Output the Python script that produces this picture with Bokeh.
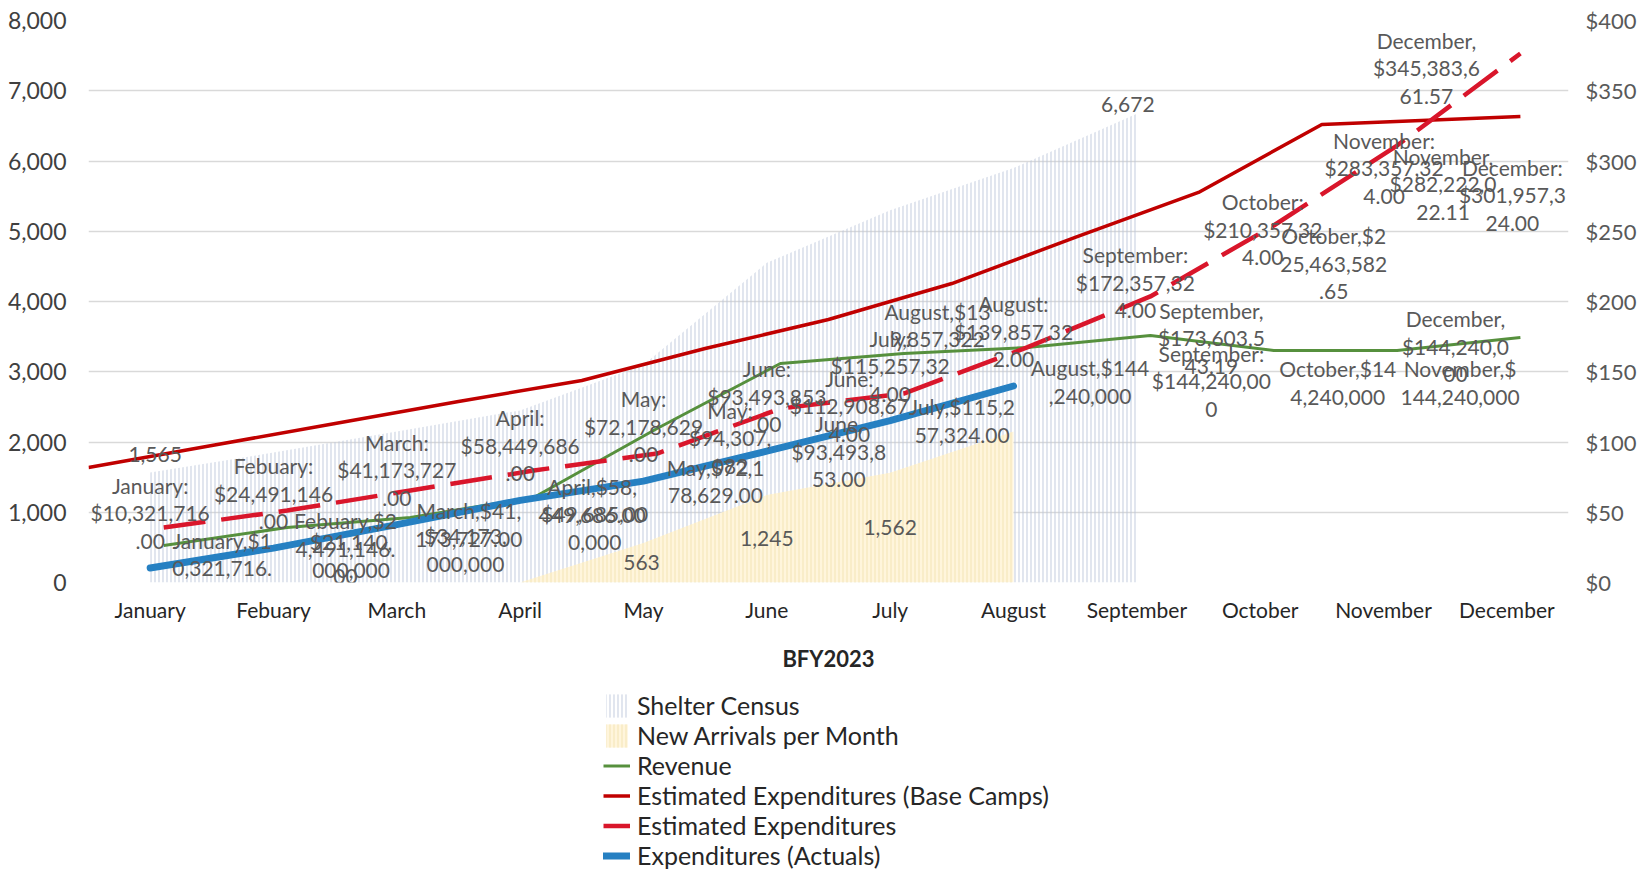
from bokeh.plotting import figure
from bokeh.layouts import column
from bokeh.models import (Range1d, LinearAxis, FixedTicker, ColumnDataSource,
                          Legend, LegendItem, NumeralTickFormatter)
from bokeh.core.properties import value
from bokeh.embed import file_html
from bokeh.resources import INLINE

# ---------------- data ----------------
months = ["January", "Febuary", "March", "April", "May", "June", "July",
          "August", "September", "October", "November", "December"]
month_x = list(range(1, 13))

shelter_census = [1565, 1850, 2150, 2450, 3100, 4550, 5300, 5900, 6672]      # Jan-Sep
new_arrivals = [0, 0, 0, 0, 563, 1245, 1562, 2150]                           # Jan-Aug

revenue_m = [26.3, 39.1, 46.3, 60.5, 109.6, 155.9, 163.0, 167.3, 175.8, 165.1, 165.1, 174.4]
est_exp_m = [39.1, 51.2, 65.5, 79.7, 91.8, 123.8, 134.5, 167.3, 203.6, 254.1, 311.0, 376.5]
base_camps_m = [81.9, 97.5, 113.2, 128.8, 143.8, 166.5, 187.2, 212.8, 245.6, 277.6, 326.0, 331.7]
base_camps_pos = [0.5, 1.5, 2.5, 3.5, 4.5, 5.5, 6.5, 7.5, 8.5, 9.5, 10.5, 12.11]
actuals = [10321716, 24491146, 41173727, 58449686, 72178629, 93493853, 115257324, 139857322]
actuals_m = [a / 1e6 for a in actuals]

count_ticks = [0, 1000, 2000, 3000, 4000, 5000, 6000, 7000, 8000]
usd_ticks = [0, 50, 100, 150, 200, 250, 300, 350, 400]

series_names = ["Shelter Census", "New Arrivals per Month", "Revenue",
                "Estimated Expenditures (Base Camps)", "Estimated Expenditures",
                "Expenditures (Actuals)"]

# data label texts
lbl_actuals_colon = ["January:\n$10,321,716\n.00", "Febuary:\n$24,491,146\n.00",
                     "March:\n$41,173,727\n.00", "April:\n$58,449,686\n.00",
                     "May:\n$72,178,629\n.00", "June:\n$93,493,853\n.00",
                     "July:\n$115,257,32\n4.00", "August:\n$139,857,32\n2.00"]
lbl_actuals_comma = ["January,$1\n0,321,716.\n00", "Febuary,$2\n4,491,146.\n00",
                     "March,$41,\n173,727.00", "April,$58,\n449,686.00",
                     "May,$72,1\n78,629.00", "June,\n$93,493,8\n53.00",
                     "July,$115,2\n57,324.00", "August,$13\n9,857,322"]
lbl_est_idx = [8, 9, 10, 11]
lbl_est = ["September:\n$172,357,32\n4.00", "October:\n$210,357,32\n4.00",
           "November:\n$283,357,32\n4.00", "December,\n$345,383,6\n61.57"]
lbl_est2_idx = [4, 5, 9, 10, 11]
lbl_est2 = ["May:\n$94,307,\n082", "June:\n$112,908,67\n4.00",
            "October,$2\n25,463,582\n.65", "November,\n$282,222,0\n22.11",
            "December:\n$301,957,3\n24.00"]
lbl_rev_idx = [1, 2, 3, 7, 8, 8, 9, 10, 11]
lbl_rev = ["$21,140,\n000,000", "$34,173,\n000,000", "$49,685,00\n0,000",
           "August,$144\n,240,000", "September,\n$173,603,5\n43.19",
           "September:\n$144,240,00\n0", "October,$14\n4,240,000",
           "November,$\n144,240,000", "December,\n$144,240,0\n00"]
lbl_shelter_idx = [0, 8]
lbl_arrivals_idx = [4, 5, 6]

# ---------------- styling / layout ----------------
LINE_SHIFT = 0.11
FONT = "Lato"
LBL_COLOR = "#595959"
SHELTER_STYLE = dict(fill_alpha=0, hatch_pattern="|", hatch_color="#bcc6da",
                     hatch_scale=4, hatch_weight=1, hatch_alpha=0.9)
ARRIVAL_STYLE = dict(fill_color="#fff5dc", fill_alpha=1, hatch_pattern="|",
                     hatch_color="#f3e4b5", hatch_scale=4, hatch_weight=1)
REV_STYLE = dict(line_color="#56903d", line_width=3, line_join="round")
BASE_STYLE = dict(line_color="#c00000", line_width=3.5, line_join="round")
EST_STYLE = dict(line_color="#d9162b", line_width=4.5, line_dash="42 16")
ACT_STYLE = dict(line_color="#2680c2", line_width=7, line_join="round")


def draw_series(fig):
    shift_x = [m + LINE_SHIFT for m in month_x]
    r = [fig.varea(x=month_x[:len(shelter_census)], y1=0, y2=shelter_census, **SHELTER_STYLE),
         fig.varea(x=month_x[:len(new_arrivals)], y1=0, y2=new_arrivals, **ARRIVAL_STYLE),
         fig.line(shift_x, revenue_m, y_range_name="usd", **REV_STYLE),
         fig.line(base_camps_pos, base_camps_m, y_range_name="usd", **BASE_STYLE),
         fig.line(shift_x, est_exp_m, y_range_name="usd", **EST_STYLE),
         fig.line(month_x[:len(actuals_m)], actuals_m, y_range_name="usd",
                  line_cap="round", **ACT_STYLE)]
    return r, shift_x


p = figure(width=1639, height=680, x_range=Range1d(0.5, 12.5), y_range=Range1d(0, 8000),
           output_backend="svg", toolbar_location=None,
           min_border_left=88, min_border_right=66, min_border_top=20, min_border_bottom=98)
p.outline_line_color = None
p.background_fill_color = "white"
p.border_fill_color = "white"
p.extra_y_ranges = {"usd": Range1d(0, 400)}

p.xgrid.grid_line_color = None
p.ygrid.grid_line_color = "#d9d9d9"
p.ygrid.grid_line_width = 1.5
p.ygrid.ticker = FixedTicker(ticks=count_ticks)

# left axis
ya = p.yaxis[0]
ya.ticker = FixedTicker(ticks=count_ticks)
ya.formatter = NumeralTickFormatter(format="0,0")
ya.axis_line_color = None
ya.major_tick_line_color = None
ya.minor_tick_line_color = None
ya.major_label_standoff = 16
ya.major_label_text_font = FONT
ya.major_label_text_font_size = "23px"
ya.major_label_text_color = "#404040"

# right axis
ra = LinearAxis(y_range_name="usd", ticker=FixedTicker(ticks=usd_ticks),
                major_label_overrides={t: "$%d" % t for t in usd_ticks})
ra.axis_line_color = None
ra.major_tick_line_color = None
ra.minor_tick_line_color = None
ra.major_label_standoff = 11
ra.major_label_text_font = FONT
ra.major_label_text_font_size = "22px"
ra.major_label_text_color = "#595959"
p.add_layout(ra, "right")

# x axis
xa = p.xaxis[0]
xa.ticker = FixedTicker(ticks=month_x)
xa.major_label_overrides = {m: n for m, n in zip(month_x, months)}
xa.axis_line_color = None
xa.major_tick_line_color = None
xa.minor_tick_line_color = None
xa.major_label_standoff = 8
xa.major_label_text_font = FONT
xa.major_label_text_font_size = "21px"
xa.major_label_text_color = "#262626"
xa.axis_label = "BFY2023"
xa.axis_label_text_font = FONT
xa.axis_label_text_font_size = "22px"
xa.axis_label_text_font_style = "bold"
xa.axis_label_text_color = "#262626"
xa.axis_label_standoff = 20

_, shift_x = draw_series(p)


# ---------------- labels ----------------
def add_labels(xs, ys, texts, dx, dy, range_name="default"):
    src = ColumnDataSource(dict(x=xs, y=ys, text=texts, dx=dx, dy=dy))
    p.text(x="x", y="y", text="text", x_offset="dx", y_offset="dy", source=src,
           y_range_name=range_name, text_font=value(FONT), text_font_size="21px",
           text_color=LBL_COLOR, text_align="center", text_baseline="middle",
           text_line_height=1.1)


n_act = len(actuals_m)
add_labels(month_x[:n_act], actuals_m, lbl_actuals_colon, [0] * n_act, [-55] * n_act, "usd")
add_labels(month_x[:n_act], actuals_m, lbl_actuals_comma,
           [72] * 7 + [-76], [0] * 7 + [-61], "usd")
add_labels([shift_x[i] for i in lbl_est_idx], [est_exp_m[i] for i in lbl_est_idx], lbl_est,
           [-15, -11, -13, -94], [-14, 4, 22, 14], "usd")
add_labels([shift_x[i] for i in lbl_est2_idx], [est_exp_m[i] for i in lbl_est2_idx], lbl_est2,
           [73, 69, 60, 46, -8], [-16, -3, 38, 38, 141], "usd")
add_labels([shift_x[i] for i in lbl_rev_idx], [revenue_m[i] for i in lbl_rev_idx], lbl_rev,
           [64, 55, 61, 63, 61, 61, 64, 63, -65], [28, 32, 30, 34, 2, 45, 32, 32, 9], "usd")
add_labels([month_x[i] for i in lbl_shelter_idx], [shelter_census[i] for i in lbl_shelter_idx],
           ["{:,}".format(shelter_census[i]) for i in lbl_shelter_idx], [5, -9], [-18, -9])
add_labels([month_x[i] for i in lbl_arrivals_idx], [new_arrivals[i] / 2 for i in lbl_arrivals_idx],
           ["{:,}".format(new_arrivals[i]) for i in lbl_arrivals_idx], [-2, 0, 0], [0, 0, 0])

# ---------------- legend (own strip below the chart; series drawn out of view) ----------------
lg = figure(width=1639, height=192, x_range=Range1d(100, 101), y_range=Range1d(-20000, -19000),
            output_backend="svg", toolbar_location=None, min_border=0)
lg.extra_y_ranges = {"usd": Range1d(-2000, -1900)}
lg.axis.visible = False
lg.grid.visible = False
lg.outline_line_color = None
lg_renderers, _ = draw_series(lg)
legend = Legend(items=[LegendItem(label=n, renderers=[r]) for n, r in
                       zip(series_names, lg_renderers)],
                location=(513, 0), orientation="vertical")
legend.border_line_alpha = 0
legend.background_fill_alpha = 0
legend.label_text_font = FONT
legend.label_text_font_size = "25px"
legend.label_text_line_height = 1.0
legend.label_text_color = "#262626"
legend.glyph_width = 27
legend.glyph_height = 29
legend.label_height = 29
legend.spacing = 0
legend.padding = 2
legend.margin = 0
legend.label_standoff = 7
lg.add_layout(legend, "center")

layout = column(p, lg, spacing=0)
open("out.html", "w").write(file_html(layout, INLINE))
